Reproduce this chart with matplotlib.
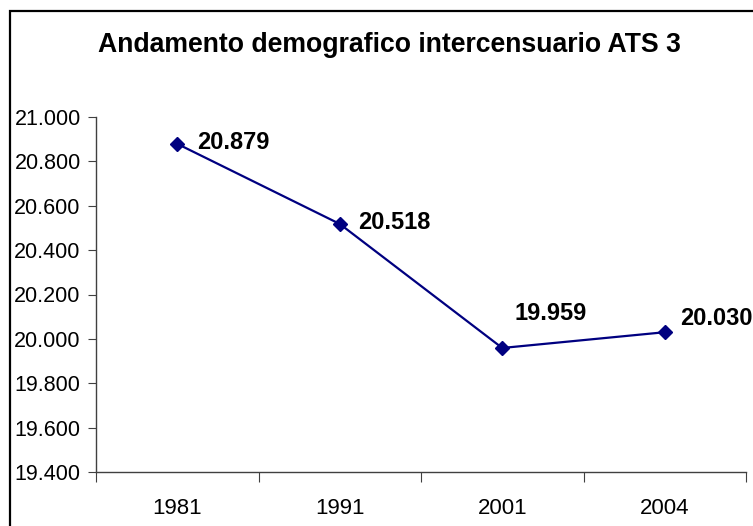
import matplotlib.pyplot as plt
from matplotlib.patches import Rectangle
from matplotlib.ticker import FuncFormatter

years = ["1981", "1991", "2001", "2004"]
population = [20879, 20518, 19959, 20030]
# label offsets in points (dx, dy)
label_offsets = [(14, 1), (13, 1), (9, 25), (11, 10)]

plt.rcParams['font.family'] = ['Liberation Sans', 'DejaVu Sans']

W, H = 753, 526
fig = plt.figure(figsize=(W / 100, H / 100), dpi=100)
ax = fig.add_axes([96 / W, 1 - 472 / H, (746 - 96) / W, (472 - 117) / H])

x = list(range(len(years)))
ax.plot(x, population, color="#000080", lw=1.6, marker="D", markersize=7.5,
        markerfacecolor="#000080", markeredgecolor="#000080", clip_on=False, zorder=3)

for xi, v, off in zip(x, population, label_offsets):
    ax.annotate(f"{v:,}".replace(",", "."), (xi, v), xytext=off, textcoords="offset points",
                ha="left", va="center", fontsize=17, fontweight="bold", annotation_clip=False)

ax.set_xlim(-0.5, len(years) - 0.5)
ax.set_ylim(19400, 21000)
ax.set_yticks(range(19400, 21001, 200))
ax.yaxis.set_major_formatter(FuncFormatter(lambda v, p: f"{int(v):,}".replace(",", ".")))

ax.set_xticks([i - 0.5 for i in range(len(years) + 1)])
ax.set_xticklabels([])
ax.set_xticks(x, minor=True)
ax.set_xticklabels(years, minor=True)
ax.tick_params(axis="x", which="major", length=7, direction="out", color="#404040")
ax.tick_params(axis="x", which="minor", length=0, pad=19, labelsize=16)
ax.tick_params(axis="y", length=6, direction="out", color="#404040", labelsize=15.5, pad=5)

for s in ["top", "right"]:
    ax.spines[s].set_visible(False)
for s in ["left", "bottom"]:
    ax.spines[s].set_color("#404040")
    ax.spines[s].set_linewidth(1)

fig.text(389.5 / W, 1 - 52 / H, "Andamento demografico intercensuario ATS 3",
         ha="center", va="baseline", fontsize=19.2, fontweight="bold")

# chart frame, only top and left edges are inside the crop
fig.patches.append(Rectangle((10 / W, -0.1), 1.2, 1.1 - 11 / H, transform=fig.transFigure,
                             fill=False, edgecolor="black", lw=1.6))

fig.savefig("out.png", dpi=100)
